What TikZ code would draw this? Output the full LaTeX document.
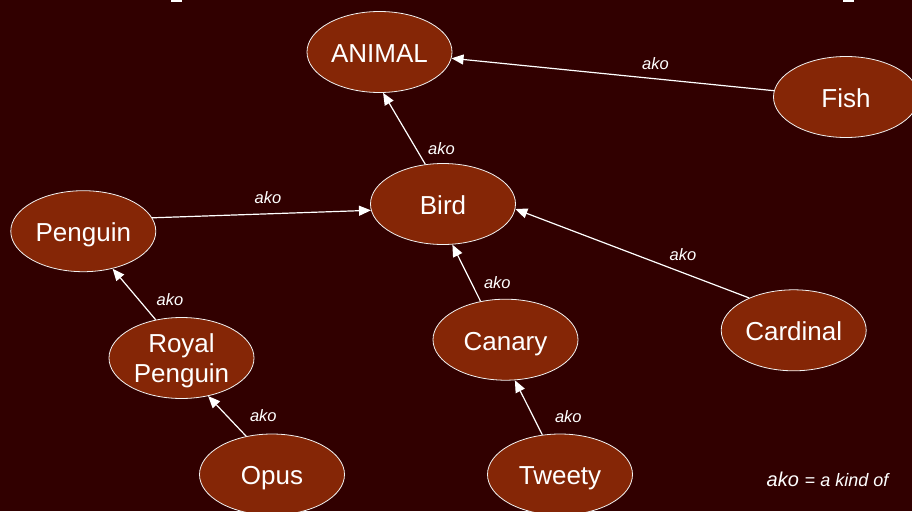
\documentclass[tikz,border=0pt]{standalone}
\usepackage{fontspec}
\setmainfont{Liberation Sans}
\usetikzlibrary{shapes.geometric,arrows.meta}
\definecolor{bgc}{RGB}{49,0,0}
\definecolor{nodefill}{RGB}{133,38,6}
\begin{document}
\begin{tikzpicture}[x=1pt,y=-1pt,
  concept/.style={ellipse, draw=white!90!gray, line width=0.8pt, fill=nodefill,
    minimum width=145pt, minimum height=81pt, inner sep=0pt, text=white,
    font=\fontsize{26}{30}\selectfont, align=center, text height=20.6pt, text depth=0pt},
  akolabel/.style={text=white, font=\fontsize{16.5}{18}\itshape\selectfont, inner sep=0pt},
  isa/.style={draw=white, line width=1.2pt, -{Triangle[length=12pt,width=10pt]}}]
\useasboundingbox (0,0) rectangle (912,511);
\clip (0,0) rectangle (912,511);
\fill[bgc] (0,0) rectangle (912,511);
\fill[white] (171,0) rectangle (181.5,1.6);
\fill[white] (843,0) rectangle (853.5,1.6);

\node[concept] (animal)   at (379.5,52)    {ANIMAL};
\node[concept] (fish)     at (846,97)      {Fish};
\node[concept] (bird)     at (443,204)     {Bird};
\node[concept] (penguin)  at (83.3,231.2)  {Penguin};
\node[concept] (cardinal) at (793.7,330.3) {Cardinal};
\node[concept] (canary)   at (505.5,339.7) {Canary};
\node[concept, text height=, text depth=0pt] (royal) at (181.5,358) {Royal\\Penguin};
\node[concept] (opus)     at (272,474.5)   {Opus};
\node[concept] (tweety)   at (560,474.5)   {Tweety};

\draw[isa] (fish.175) -- (animal.-5);
\draw[isa] (bird.114) -- (animal.-85);
\draw[isa] (penguin.11) -- (bird.185);
\draw[isa] (cardinal.144) -- (bird.-4);
\draw[isa] (canary.123) -- (bird.-77);
\draw[isa] (royal.124) -- (penguin.-52);
\draw[isa] (opus.124) -- (royal.-55);
\draw[isa] (tweety.114) -- (canary.-77);

\node[akolabel] (l1) at (655.5,64)    {ako};
\node[akolabel] (l2) at (441.5,149)   {ako};
\node[akolabel] (l3) at (268,198)     {ako};
\node[akolabel] (l4) at (683,255)     {ako};
\node[akolabel] (l5) at (497.3,282.7) {ako};
\node[akolabel] (l6) at (170,300)     {ako};
\node[akolabel] (l7) at (263.3,416)   {ako};
\node[akolabel] (l8) at (568.3,416.7) {ako};

\node[anchor=base west, inner sep=0pt, text=white, font=\fontsize{18}{20}\selectfont] (legend) at (766.5,486)
  {{\fontsize{20}{22}\itshape\selectfont ako}\hspace{6pt}=\ {\itshape a kind of}};
\end{tikzpicture}
\end{document}
